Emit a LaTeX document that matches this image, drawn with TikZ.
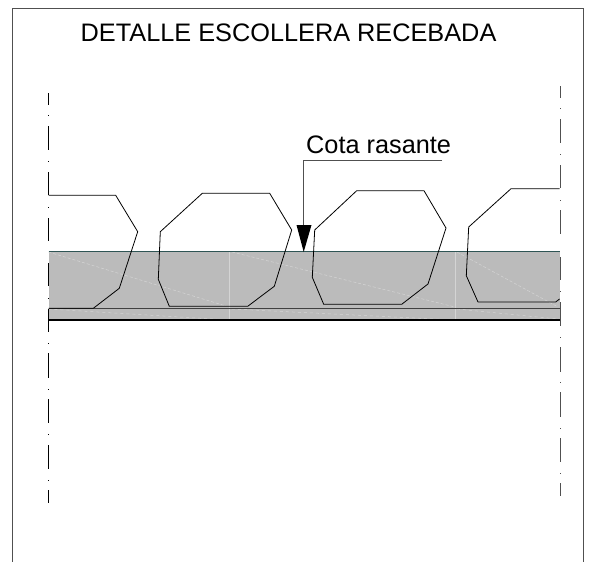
\documentclass[tikz,border=0pt]{standalone}
\usepackage{fontspec}
\setmainfont{Liberation Sans}
\definecolor{bandgray}{HTML}{BBBBBB}
\definecolor{bandtop}{HTML}{2F5555}
\definecolor{framegray}{HTML}{505050}
\definecolor{seam}{HTML}{D4D4D4}
\tikzset{
  rock/.style={draw=black,line width=0.8pt,line join=round},
  seamline/.style={draw=seam,line width=0.5pt},
  axisline/.style={draw=black,line width=0.8pt},
  labeltext/.style={inner sep=0pt,anchor=base west,text=black}
}
\begin{document}
\begin{tikzpicture}[x=1pt,y=-1pt]
\useasboundingbox (0,0) rectangle (589,562);
% frame (open at the bottom)
\draw[framegray,line width=1pt] (12.5,562) -- (12.5,8) -- (583.5,8) -- (583.5,562);
% band
\fill[bandgray] (48.5,251.7) rectangle (560,320);
% seams
\draw[seamline,densely dashed] (48.5,252) -- (226,306);
\draw[seamline,densely dashed] (232,252) -- (455,307);
\draw[seamline,densely dashed] (457,252) -- (558,307);
\draw[seamline] (229.5,252) -- (229.5,320);
\draw[seamline] (455.7,252) -- (455.7,320);
\draw[seamline,dashed] (48.5,309) -- (229,320);
\draw[seamline,dashed] (232,309) -- (455,320);
\draw[seamline,dashed] (457,309) -- (558,319);
% band lines
\draw[bandtop,line width=0.9pt] (48.5,251.7) -- (560,251.7);
\draw[black!75,line width=1pt] (48.5,308.5) -- (560,308.5);
\draw[black,line width=1.1pt] (48.5,320) -- (560,320);
% axis lines
\foreach \a/\b in {93.3/105,126/150,172/195,218/241,263/286,309/332,353/378,399/423,445/469,490/503}
  \draw[axisline] (48.5,\a) -- (48.5,\b);
\foreach \d in {115,161,207,298,343,389,434,480}
  \draw[axisline] (48.5,\d) -- (48.5,\d+0.7);
\foreach \a/\b in {86/98,119/143,165/188,210/234,257/280,302/326,347/372,392/417,438/462,483/496}
  \draw[framegray,line width=1pt] (560.5,\a) -- (560.5,\b);
\foreach \d in {108,154,200,291,337,382,428,473}
  \draw[framegray,line width=1pt] (560.5,\d) -- (560.5,\d+0.7);
% rocks
\draw[rock] (48.5,195.3) -- (115.7,195.3) -- (137.7,231.7) -- (119.3,288.3) -- (93.3,308.3) -- (48.5,308.3);
\draw[rock] (202.3,193.3) -- (269.7,193.3) -- (291.7,230) -- (274.3,286.3) -- (247.7,306.3) -- (169.3,306.3) -- (158.3,279.3) -- (160.3,231.7) -- cycle;
\draw[rock] (356.7,190.7) -- (424,190.7) -- (446,228) -- (428,284) -- (401.7,304.3) -- (323.7,304.3) -- (312.3,277.3) -- (314.7,230) -- cycle;
\draw[rock] (559.5,188.7) -- (511,188.7) -- (468.7,227) -- (466.3,275.7) -- (478,302) -- (555.7,302) -- (559.5,299);
% leader
\coordinate (leaderEnd) at (442,160);
\coordinate (leaderKnee) at (303.7,160);
\coordinate (leaderTip) at (303.7,252);
\draw[framegray,line width=0.9pt] (leaderEnd) -- (leaderKnee) -- (303.7,226);
\fill[black] (296.5,225) -- (311.5,225) -- (leaderTip) -- cycle;
% text
\node[labeltext,font=\fontsize{25.3pt}{28pt}\selectfont] (title) at (80.5,41) {DETALLE ESCOLLERA RECEBADA};
\node[labeltext,font=\fontsize{25.3pt}{28pt}\selectfont] (cota) at (306,153.3) {Cota rasante};
\end{tikzpicture}
\end{document}
